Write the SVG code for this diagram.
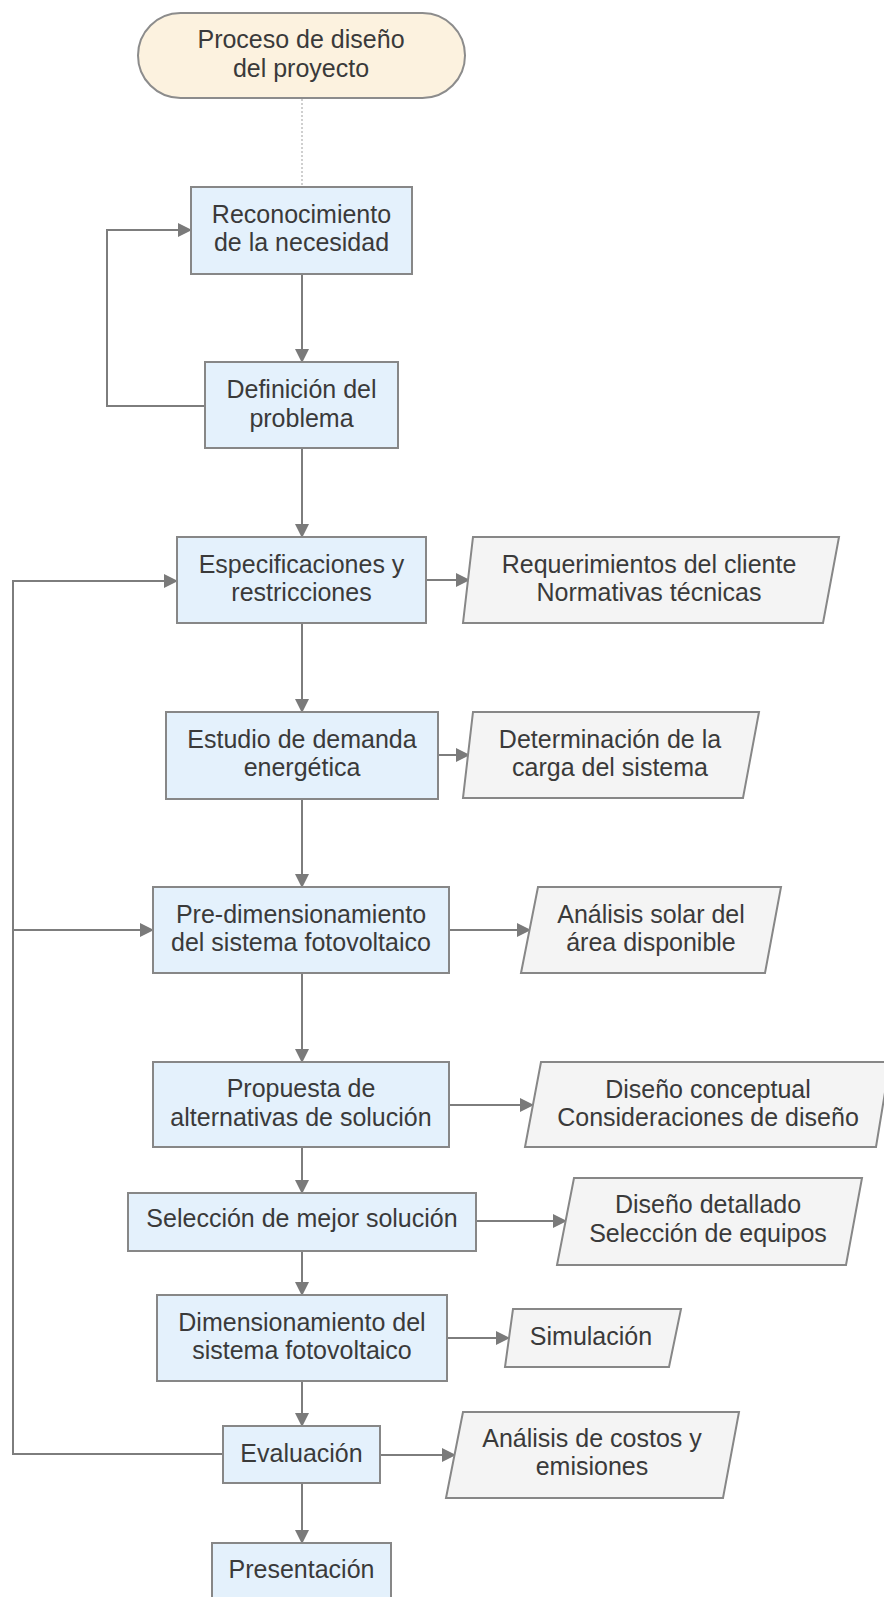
<svg xmlns="http://www.w3.org/2000/svg" width="884" height="1597" viewBox="0 0 884 1597">
<style>
.box{fill:#e4f1fc;stroke:#878787;stroke-width:2}
.io{fill:#f4f4f4;stroke:#878787;stroke-width:2}
.term{fill:#fcf2df;stroke:#8c8c8c;stroke-width:2}
.t{font-family:"Liberation Sans",Arial,sans-serif;font-size:25px;fill:#3a3a3a;text-anchor:middle}
.c{fill:none;stroke:#7d7d7d;stroke-width:2}
.dot{fill:none;stroke:#b0b0b0;stroke-width:1.2;stroke-dasharray:2 2}
</style>
<defs>
<marker id="ah" viewBox="0 0 14 14" refX="13" refY="7" markerWidth="14" markerHeight="14" markerUnits="userSpaceOnUse" orient="auto">
<path d="M0,0 L14,7 L0,14 z" fill="#7a7a7a"/>
</marker>
</defs>
<rect width="884" height="1597" fill="#ffffff"/>
<g id="connectors">
<path class="dot" d="M302,99 V187"/>
<path class="c" d="M302,274 V362" marker-end="url(#ah)"/>
<path class="c" d="M205,406 H107 V230 H191" marker-end="url(#ah)"/>
<path class="c" d="M302,448 V537" marker-end="url(#ah)"/>
<path class="c" d="M426,580 H469" marker-end="url(#ah)"/>
<path class="c" d="M302,623 V712" marker-end="url(#ah)"/>
<path class="c" d="M438,755 H469" marker-end="url(#ah)"/>
<path class="c" d="M302,799 V887" marker-end="url(#ah)"/>
<path class="c" d="M449,930 H530" marker-end="url(#ah)"/>
<path class="c" d="M302,973 V1062" marker-end="url(#ah)"/>
<path class="c" d="M449,1105 H533" marker-end="url(#ah)"/>
<path class="c" d="M302,1147 V1193" marker-end="url(#ah)"/>
<path class="c" d="M476,1221 H566" marker-end="url(#ah)"/>
<path class="c" d="M302,1251 V1295" marker-end="url(#ah)"/>
<path class="c" d="M447,1338 H509" marker-end="url(#ah)"/>
<path class="c" d="M302,1381 V1426" marker-end="url(#ah)"/>
<path class="c" d="M380,1455 H455" marker-end="url(#ah)"/>
<path class="c" d="M302,1483 V1543" marker-end="url(#ah)"/>
<path class="c" d="M223,1454 H13 V581 H177" marker-end="url(#ah)"/>
<path class="c" d="M13,930 H153" marker-end="url(#ah)"/>
</g>
<g id="inicio">
<rect class="term" x="138" y="13" width="327" height="85" rx="42.5" ry="42.5"/>
<text class="t" x="301" y="48">Proceso de diseño</text>
<text class="t" x="301" y="77">del proyecto</text>
</g>
<g id="reconocimiento">
<rect class="box" x="191" y="187" width="221" height="87"/>
<text class="t" x="301.5" y="223">Reconocimiento</text>
<text class="t" x="301.5" y="251">de la necesidad</text>
</g>
<g id="definicion">
<rect class="box" x="205" y="362" width="193" height="86"/>
<text class="t" x="301.5" y="398">Definición del</text>
<text class="t" x="301.5" y="427">problema</text>
</g>
<g id="especificaciones">
<rect class="box" x="177" y="537" width="249" height="86"/>
<text class="t" x="301.5" y="573">Especificaciones y</text>
<text class="t" x="301.5" y="601">restricciones</text>
</g>
<g id="requerimientos">
<polygon class="io" points="473,537 839,537 823,623 463,623"/>
<text class="t" x="649" y="573">Requerimientos del cliente</text>
<text class="t" x="649" y="601">Normativas técnicas</text>
</g>
<g id="estudio">
<rect class="box" x="166" y="712" width="272" height="87"/>
<text class="t" x="302" y="748">Estudio de demanda</text>
<text class="t" x="302" y="776">energética</text>
</g>
<g id="determinacion">
<polygon class="io" points="473,712 759,712 743,798 463,798"/>
<text class="t" x="610" y="748">Determinación de la</text>
<text class="t" x="610" y="776">carga del sistema</text>
</g>
<g id="predimensionamiento">
<rect class="box" x="153" y="887" width="296" height="86"/>
<text class="t" x="301" y="923">Pre-dimensionamiento</text>
<text class="t" x="301" y="951">del sistema fotovoltaico</text>
</g>
<g id="analisis-solar">
<polygon class="io" points="538,887 781,887 765,973 521,973"/>
<text class="t" x="651" y="923">Análisis solar del</text>
<text class="t" x="651" y="951">área disponible</text>
</g>
<g id="propuesta">
<rect class="box" x="153" y="1062" width="296" height="85"/>
<text class="t" x="301" y="1097">Propuesta de</text>
<text class="t" x="301" y="1126">alternativas de solución</text>
</g>
<g id="diseno-conceptual">
<polygon class="io" points="541,1062 890,1062 876,1147 525,1147"/>
<text class="t" x="708" y="1098">Diseño conceptual</text>
<text class="t" x="708" y="1126">Consideraciones de diseño</text>
</g>
<g id="seleccion">
<rect class="box" x="128" y="1193" width="348" height="58"/>
<text class="t" x="302" y="1227">Selección de mejor solución</text>
</g>
<g id="diseno-detallado">
<polygon class="io" points="574,1178 862,1178 846,1265 557,1265"/>
<text class="t" x="708" y="1213">Diseño detallado</text>
<text class="t" x="708" y="1242">Selección de equipos</text>
</g>
<g id="dimensionamiento">
<rect class="box" x="157" y="1295" width="290" height="86"/>
<text class="t" x="302" y="1331">Dimensionamiento del</text>
<text class="t" x="302" y="1359">sistema fotovoltaico</text>
</g>
<g id="simulacion">
<polygon class="io" points="513,1309 681,1309 669,1367 505,1367"/>
<text class="t" x="591" y="1345">Simulación</text>
</g>
<g id="evaluacion">
<rect class="box" x="223" y="1426" width="157" height="57"/>
<text class="t" x="301.5" y="1462">Evaluación</text>
</g>
<g id="analisis-costos">
<polygon class="io" points="463,1412 739,1412 723,1498 446,1498"/>
<text class="t" x="592" y="1447">Análisis de costos y</text>
<text class="t" x="592" y="1475">emisiones</text>
</g>
<g id="presentacion">
<rect class="box" x="212" y="1543" width="179" height="70"/>
<text class="t" x="301.5" y="1578">Presentación</text>
</g>
</svg>
